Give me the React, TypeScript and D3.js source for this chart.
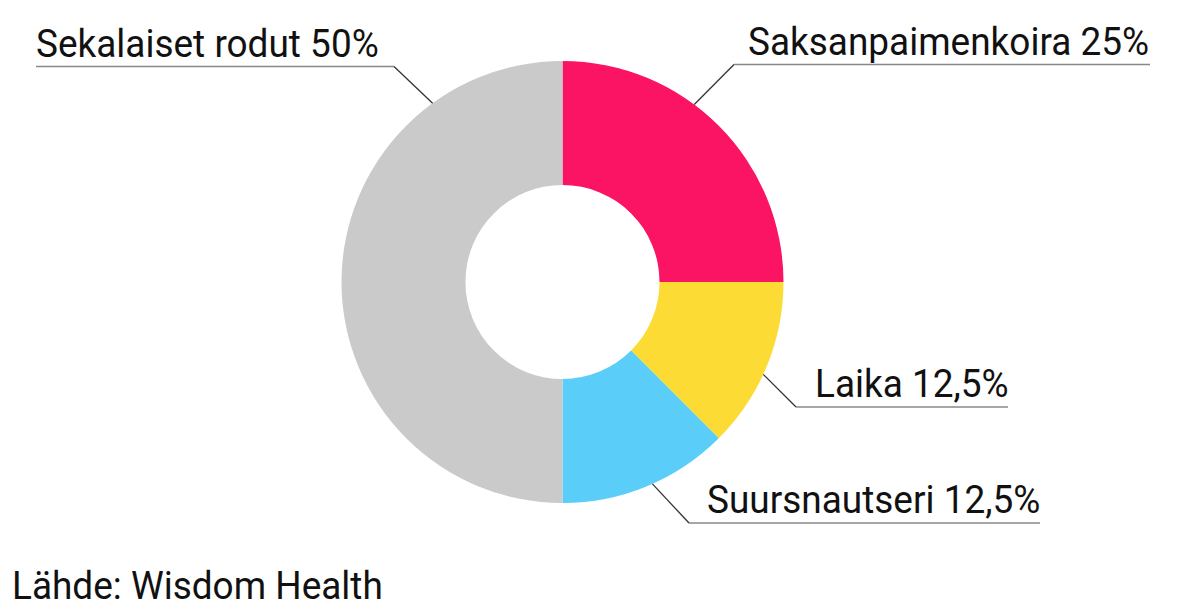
import * as d3 from "d3";

const W = 1199, H = 616;
const CX = 562.5, CY = 282, R_OUT = 221, R_IN = 97;
const COND = 0.948; // fake a condensed face with a horizontal squeeze

const breeds = ["Saksanpaimenkoira", "Laika", "Suursnautseri", "Sekalaiset rodut"];
const shares = [25, 12.5, 12.5, 50];
const colors = ["#FA1463", "#FCDC34", "#5ACEF8", "#CACACA"];
const source = "Lähde: Wisdom Health";

// label layout: leader angle on the rim (deg), knee x, underline y, text x, underline end x
const labelLayout = [
  { deg: 36.6, knee: 734, lineY: 64.5, tx: 748, end: 1150, anchor: "start" },
  { deg: 114.7, knee: 796, lineY: 407, tx: 815, end: 1008, anchor: "start" },
  { deg: 156, knee: 689, lineY: 523, tx: 707, end: 1040, anchor: "start" },
  { deg: -36, knee: 394, lineY: 66.5, tx: 36, end: 36, anchor: "start" },
];

const fmt = (v: number) => String(v).replace(".", ",") + "%";

export default function App() {
  const pie = d3.pie<number>().sort(null).value((d) => d);
  const arcs = pie(shares);
  const arc = d3.arc<d3.PieArcDatum<number>>().innerRadius(R_IN).outerRadius(R_OUT);

  return (
    <svg width={W} height={H} style={{ position: "absolute", left: 0, top: 0, background: "#fff" }}
      fontFamily="Roboto, 'Noto Sans', sans-serif">
      <g transform={`translate(${CX},${CY})`}>
        {arcs.map((a, i) => (
          <path key={i} d={arc(a) ?? ""} fill={colors[i]} />
        ))}
      </g>

      {arcs.map((_, i) => {
        const L = labelLayout[i];
        const [px, py] = d3.pointRadial((L.deg * Math.PI) / 180, R_OUT);
        return (
          <g key={i}>
            <line x1={CX + px} y1={CY + py} x2={L.knee} y2={L.lineY} stroke="#333" strokeWidth={1.3} />
            <line x1={L.knee} y1={L.lineY} x2={L.end} y2={L.lineY} stroke="#888" strokeWidth={1.3} />
            <text transform={`translate(${L.tx},${L.lineY - 10}) scale(${COND},1)`}
              fontSize={39} fill="#111" textAnchor={L.anchor}>
              {breeds[i]} {fmt(shares[i])}
            </text>
          </g>
        );
      })}

      <text transform={`translate(12,599) scale(${COND},1)`} fontSize={39} fill="#111">
        {source}
      </text>
    </svg>
  );
}
